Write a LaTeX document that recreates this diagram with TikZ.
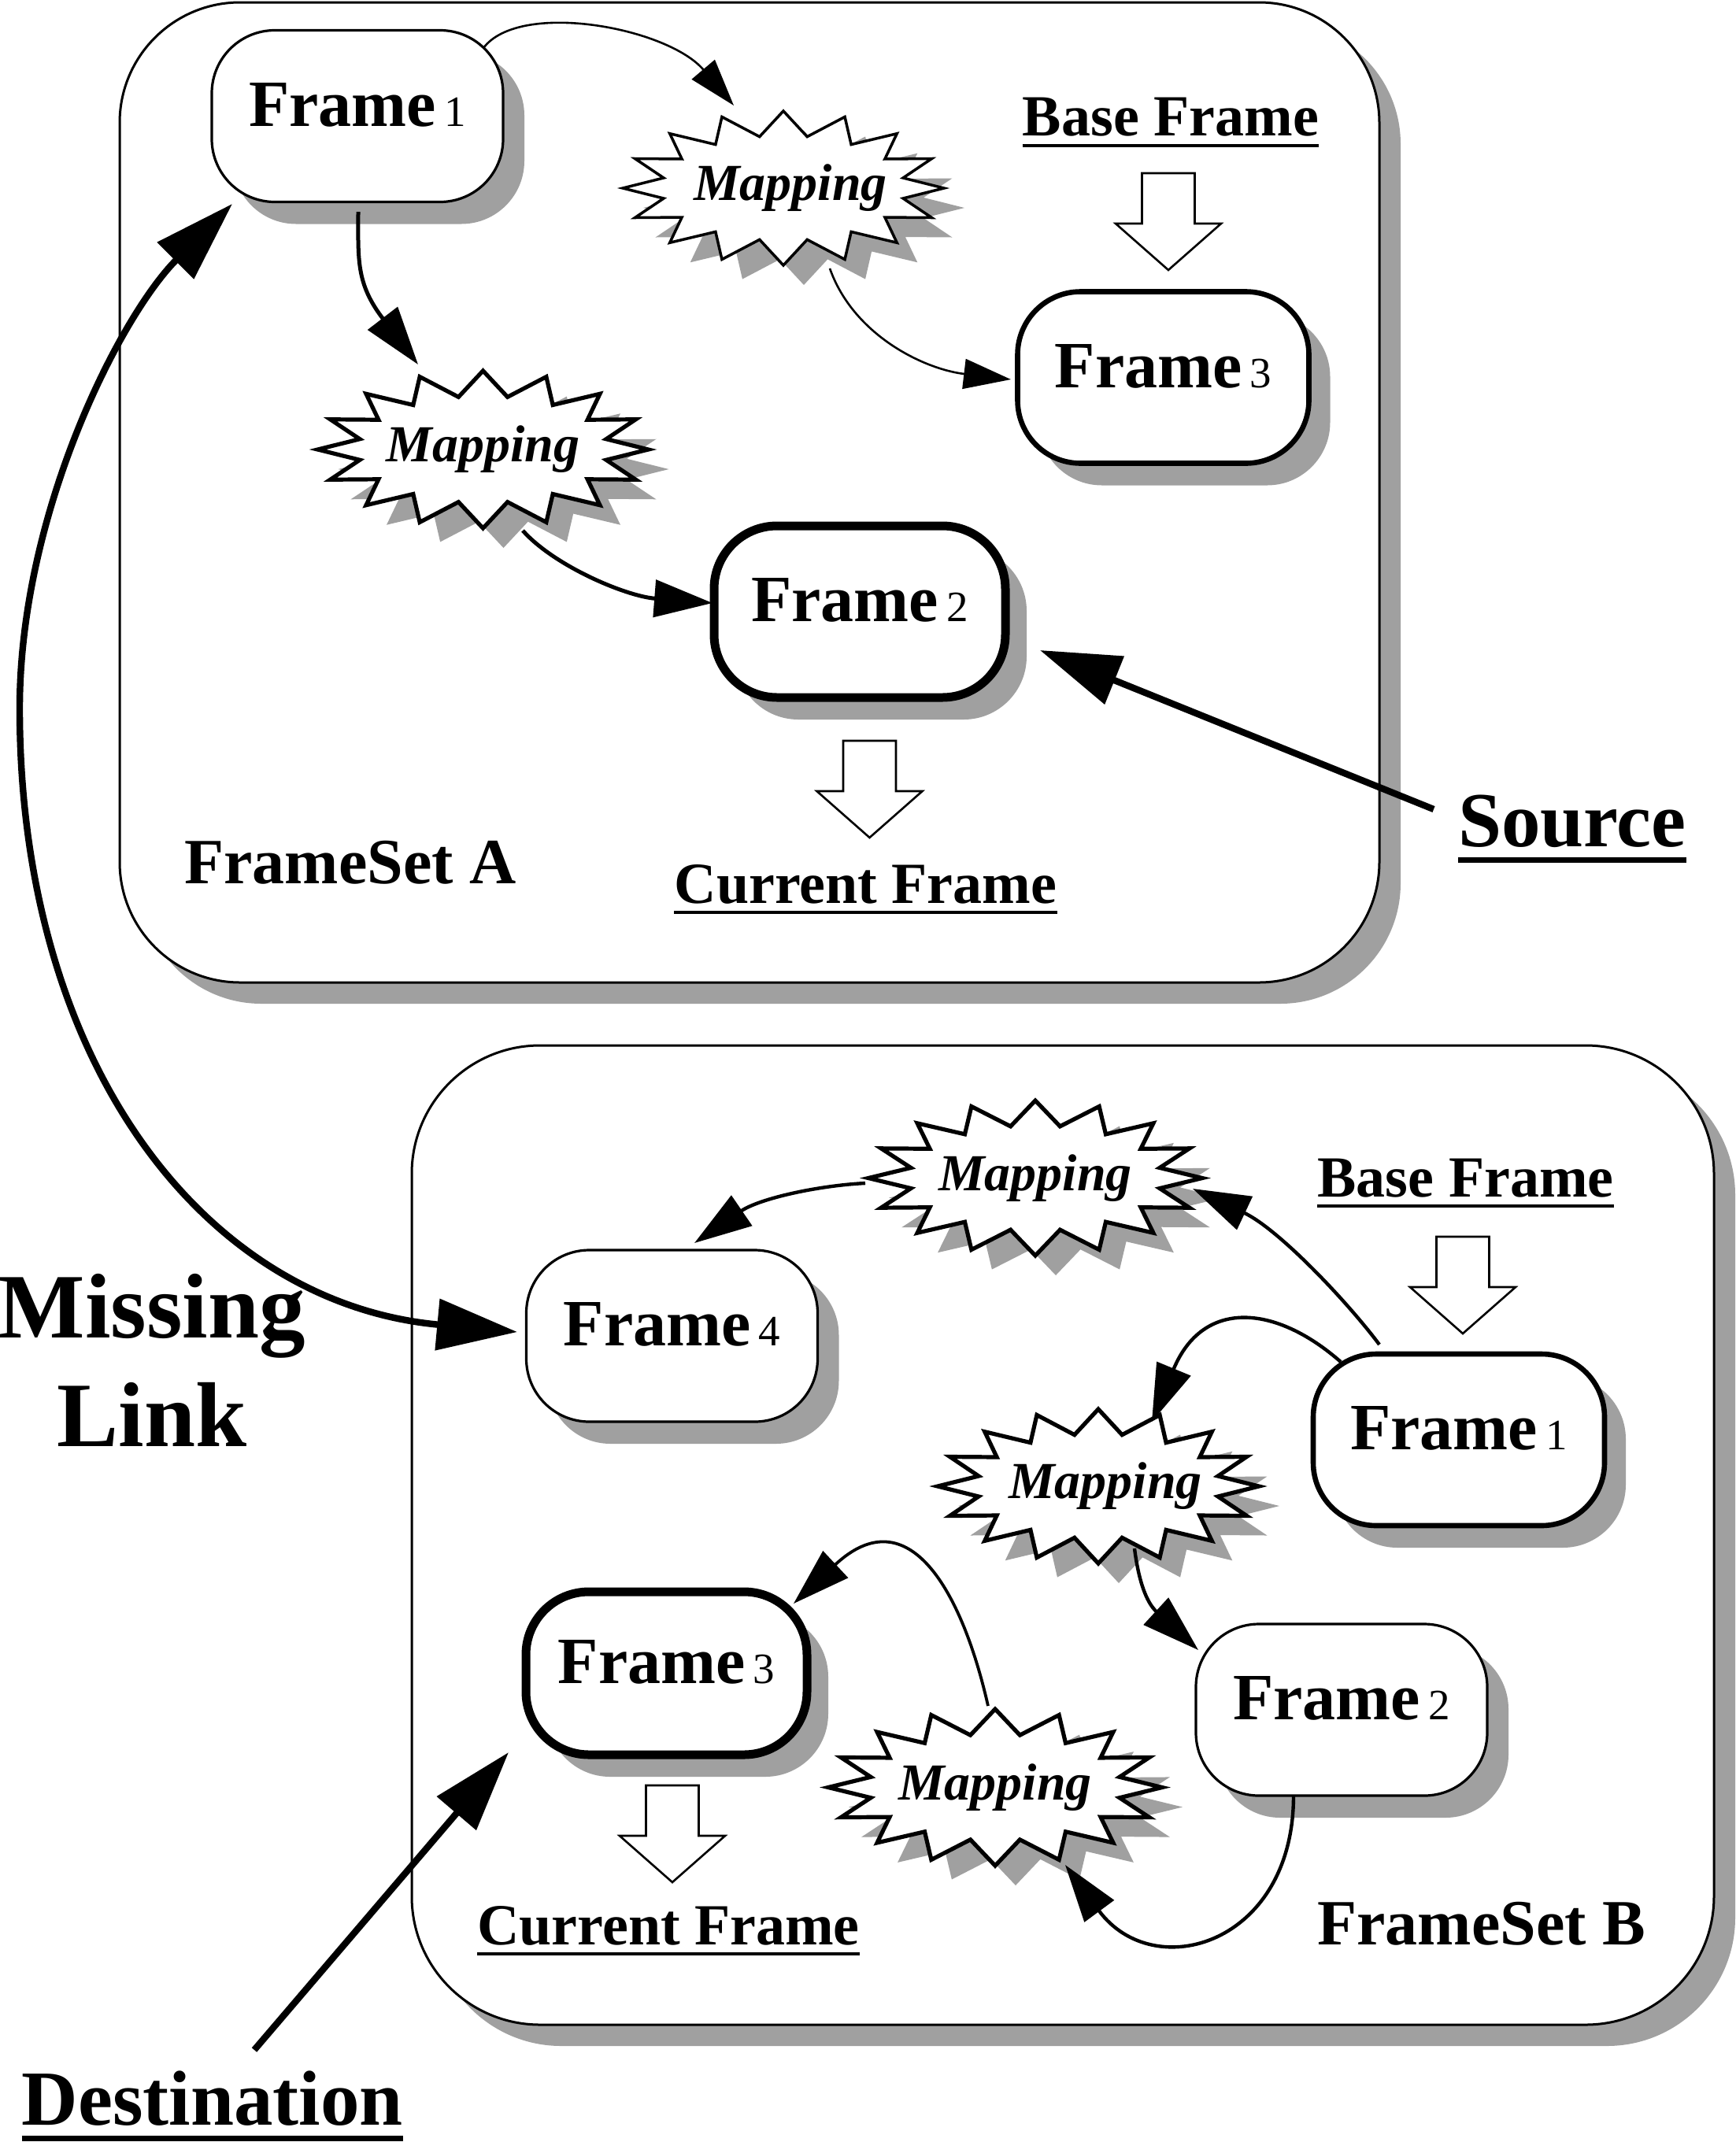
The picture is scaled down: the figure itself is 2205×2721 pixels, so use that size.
\documentclass[tikz,border=0pt]{standalone}
\usepackage{fontspec}
\setmainfont{Liberation Serif}
\usetikzlibrary{arrows.meta,shapes.geometric,shadows}
\definecolor{shgray}{RGB}{160,160,160}
\newcommand\fr[1]{Frame\hspace{5pt}{\fontsize{27.5}{32}\selectfont\mdseries #1}}
\newcommand\mapstar[5]{%
  \fill[shgray, shift={({#1+26},{#2+25})}] (#3,0) \foreach \k in {0,...,15}{ -- ({0.76*#3*cos(22.5*\k+11.25)},{0.68*#4*sin(22.5*\k+11.25)}) -- ({#3*cos(22.5*\k+22.5)},{#4*sin(22.5*\k+22.5)}) } -- cycle;
  \draw[fill=white, line width=#5, shift={(#1,#2)}] (#3,0) \foreach \k in {0,...,15}{ -- ({0.76*#3*cos(22.5*\k+11.25)},{0.68*#4*sin(22.5*\k+11.25)}) -- ({#3*cos(22.5*\k+22.5)},{#4*sin(22.5*\k+22.5)}) } -- cycle;
}
\begin{document}
\begin{tikzpicture}[x=0.5pt,y=-0.5pt,
  outer/.style={draw, line width=1.5pt, fill=white, inner sep=0pt,
    drop shadow={shadow xshift=13.5pt, shadow yshift=-13.5pt, fill=shgray, opacity=1}},
  frm/.style={draw, fill=white, rounded corners=40pt, minimum width=185pt, minimum height=109pt,
    inner sep=0pt, text height=29pt, text depth=16.5pt, font=\fontsize{42}{50}\selectfont\bfseries,
    drop shadow={shadow xshift=13.5pt, shadow yshift=-14pt, fill=shgray, opacity=1}},
  thinbox/.style={line width=1.6pt},
  medbox/.style={line width=3.3pt},
  thickbox/.style={line width=5.5pt},
  mapn/.style={ellipse, inner sep=0pt, font=\fontsize{33}{40}\selectfont\bfseries\itshape},
  lbl/.style={inner sep=0pt, font=\fontsize{37}{44}\selectfont\bfseries},
  setl/.style={inner sep=0pt, font=\fontsize{41}{48}\selectfont\bfseries},
  biglbl/.style={inner sep=0pt, font=\fontsize{49.5}{58}\selectfont\bfseries},
  mlabel/.style={inner sep=0pt, align=center, font=\fontsize{58.5}{69}\selectfont\bfseries},
  thinarr/.style={line width=1.3pt, -{Triangle[length=30pt,width=19pt]}},
  medarr/.style={line width=2.5pt, -{Triangle[length=37pt,width=23.5pt]}},
  medarrb/.style={line width=2.2pt, -{Triangle[length=36.5pt,width=23pt]}},
  thickarr/.style={line width=4.2pt, -{Triangle[length=51pt,width=32pt]}},
  twoarr/.style={line width=4.2pt, {Triangle[length=51pt,width=32pt]}-{Triangle[length=51pt,width=32pt]}},
  ul/.style={line width=2pt},
  bigul/.style={line width=3.5pt},
  hollowdown/.pic={\draw[line width=1.3pt, fill=white, line join=miter]
     (-33.5,0) -- (33.5,0) -- (33.5,64) -- (67,64) -- (0,123) -- (-67,64) -- (-33.5,64) -- cycle;}
]
\useasboundingbox (0,0) rectangle (2205,2721);

% FrameSet containers
\node[outer, rounded corners=76.5pt, minimum width=800pt, minimum height=622.5pt] (setA) at (952,625.5) {};
\node[outer, rounded corners=81.5pt, minimum width=827pt, minimum height=622pt] (setB) at (1350,1950) {};

% Frames
\node[frm, thinbox] (f1a) at (454,147.5) {\fr{1}};
\node[frm, medbox] (f3a) at (1477.5,479.5) {\fr{3}};
\node[frm, thickbox] (f2a) at (1092,777) {\fr{2}};
\node[frm, thinbox] (f4b) at (853.5,1697) {\fr{4}};
\node[frm, medbox] (f1b) at (1853,1829) {\fr{1}};
\node[frm, thinbox] (f2b) at (1704,2172) {\fr{2}};
\node[frm, thickbox, minimum width=178.5pt, minimum height=103.5pt] (f3b) at (846.5,2125.5) {\fr{3}};

% Mappings
\mapstar{995}{239}{204}{98}{1.75pt}
\node[mapn, minimum width=204pt, minimum height=98pt] (m1a) at (995,239) {\hspace{9pt}Mapping};
\mapstar{613.5}{571}{210}{100}{2.6pt}
\node[mapn, minimum width=210pt, minimum height=100pt] (m2a) at (613.5,571) {Mapping};
\mapstar{1315}{1496.5}{212}{98.5}{2.6pt}
\node[mapn, minimum width=212pt, minimum height=98.5pt] (mb1) at (1315,1496.5) {Mapping};
\mapstar{1395}{1888}{204}{98}{2.6pt}
\node[mapn, minimum width=204pt, minimum height=98pt] (mb2) at (1395,1888) {\hspace{9pt}Mapping};
\mapstar{1264}{2270.5}{212}{99.5}{2.6pt}
\node[mapn, minimum width=212pt, minimum height=99.5pt] (mb3) at (1264,2270.5) {Mapping};

% Labels
\node[lbl, anchor=base] (bfa) at (1487,172) {Base Frame};
\draw[ul] ([yshift=-6.25pt]bfa.base west) -- ([yshift=-6.25pt]bfa.base east);
\node[lbl, anchor=base] (cfa) at (1099.5,1147) {Current Frame};
\draw[ul] ([yshift=-6pt]cfa.base west) -- ([yshift=-6pt]cfa.base east);
\node[lbl, anchor=base] (bfb) at (1861.5,1520) {Base Frame};
\draw[ul] ([yshift=-6pt]bfb.base west) -- ([yshift=-6pt]bfb.base east);
\node[lbl, anchor=base] (cfb) at (849,2470) {Current Frame};
\draw[ul] ([yshift=-6pt]cfb.base west) -- ([yshift=-6pt]cfb.base east);
\node[setl, anchor=base west] (fsa) at (234,1122) {FrameSet A};
\node[setl, anchor=base west] (fsb) at (1673,2470) {FrameSet B};
\node[biglbl, anchor=base] (src) at (1997,1075) {Source};
\draw[bigul] ([yshift=-8.5pt]src.base west) -- ([yshift=-8.5pt]src.base east);
\node[biglbl, anchor=base] (dst) at (270,2699) {Destination};
\draw[bigul] ([yshift=-8.5pt]dst.base west) -- ([yshift=-8.5pt]dst.base east);
\node[mlabel, anchor=north] (ml) at (193,1618) {Missing\\Link};

% hollow arrows
\pic at (1484,220) {hollowdown};
\pic at (1104.5,941) {hollowdown};
\pic at (1858,1571) {hollowdown};
\pic at (854,2268) {hollowdown};

% connectors, FrameSet A
\draw[thinarr] ([shift={(160,-86.5)}]f1a.center) .. controls +(46,-61) and +(-84,-99) .. ([shift={(-63,-105)}]m1a.center);
\draw[thinarr] ([shift={(59,102)}]m1a.center) .. controls +(30,85) and +(-110,-13) .. ([shift={(-193.5,2.5)}]f3a.center);
\draw[medarr] ([shift={(1,121.5)}]f1a.center) .. controls +(0,61) and +(-79,-103) .. ([shift={(-82.5,-108)}]m2a.center);
\draw[medarr] ([shift={(50.5,103)}]m2a.center) .. controls +(40,45) and +(-110,-8.6) .. ([shift={(-187,-11)}]f2a.center);

% connectors, FrameSet B
\draw[medarrb] ([shift={(-216,6.5)}]mb1.center) .. controls +(-60,3) and +(82.5,-56.5) .. ([shift={(28.5,-118)}]f4b.center);
\draw[medarrb] ([shift={(-101,-121)}]f1b.center) .. controls +(-42,-56) and +(108.5,51) .. ([shift={(200,13.5)}]mb1.center);
\draw[medarrb] ([shift={(-150,-99)}]f1b.center) .. controls +(-82.5,-72.6) and +(65,-157) .. ([shift={(68,-82)}]mb2.center);
\draw[medarrb] ([shift={(46,79)}]mb2.center) .. controls +(5,40) and +(-66.3,-60.8) .. ([shift={(-182,-76)}]f2b.center);
\draw[medarrb] ([shift={(-61,109)}]f2b.center) .. controls +(0,189) and +(112.7,153) .. ([shift={(89,98.5)}]mb3.center);
\draw[medarrb, line width=1.9pt] ([shift={(-9,-103.5)}]mb3.center) .. controls +(-33,-145.5) and +(146,-136.4) .. ([shift={(161.5,-88.5)}]f3b.center);

% long connectors
\coordinate (mlbend) at (25,900);
\draw[twoarr] ([shift={(-159,111.5)}]f1a.center) .. controls +(-141.4,141.4) and +(0,-250) .. (mlbend)
   .. controls +(0,450) and +(-398,-37) .. ([shift={(-196.5,-5)}]f4b.center);
\draw[thickarr] ([shift={(-176,-47)}]src.base) -- ([shift={(229,49)}]f2a.center);
\draw[thickarr] ([shift={(53,-95)}]dst.base) -- ([shift={(-200.5,100.5)}]f3b.center);
\end{tikzpicture}
\end{document}
